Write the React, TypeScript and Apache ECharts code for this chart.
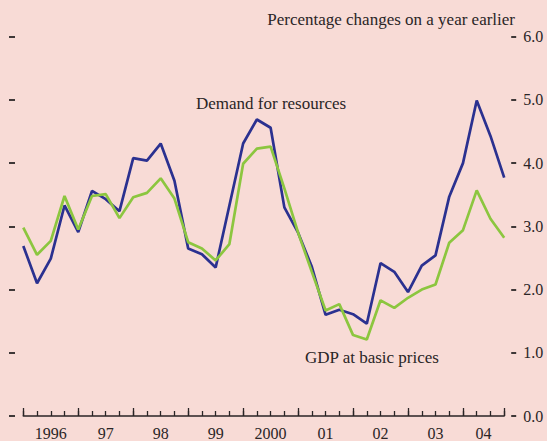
import React, { useEffect, useRef } from "react";
import * as echarts from "echarts";

const quarters: string[] = [];
const years = ["1996", "1997", "1998", "1999", "2000", "2001", "2002", "2003", "2004"];
years.forEach((y) => ["Q1", "Q2", "Q3", "Q4"].forEach((q) => quarters.push(y + " " + q)));

const yearLabels = ["1996", "97", "98", "99", "2000", "01", "02", "03", "04"];

const demandForResources = [
  2.69, 2.10, 2.49, 3.33, 2.91, 3.56, 3.43, 3.24, 4.08, 4.04, 4.31, 3.72,
  2.65, 2.56, 2.35, 3.33, 4.31, 4.69, 4.56, 3.30, 2.90, 2.36, 1.60, 1.68,
  1.61, 1.46, 2.42, 2.28, 1.96, 2.38, 2.54, 3.47, 4.00, 4.99, 4.43, 3.77,
];

const gdpBasicPrices = [
  2.98, 2.55, 2.77, 3.48, 2.95, 3.48, 3.51, 3.13, 3.46, 3.53, 3.76, 3.44,
  2.75, 2.65, 2.46, 2.72, 3.99, 4.23, 4.26, 3.60, 2.90, 2.28, 1.67, 1.77,
  1.28, 1.21, 1.83, 1.71, 1.87, 2.00, 2.08, 2.74, 2.94, 3.57, 3.12, 2.82,
];

const yTicks = [0, 1, 2, 3, 4, 5, 6];

const FONT = "'Liberation Serif', 'DejaVu Serif', serif";
const TEXT = "#2a2526";
const BG = "#f8dbd6";

export default function App() {
  const ref = useRef<HTMLDivElement>(null);
  useEffect(() => {
    if (!ref.current) return;
    const chart = echarts.init(ref.current, null, { renderer: "svg" });
    const labelPos: Record<string, string> = {};
    yearLabels.forEach((l, i) => {
      const v = i === yearLabels.length - 1 ? i * 4 + 1.5 : i * 4 + 2;
      labelPos[String(v)] = l;
    });
    chart.setOption({
      animation: false,
      backgroundColor: BG,
      grid: { left: 23.3, right: 42.8, top: 36.7, bottom: 19.3, containLabel: false },
      xAxis: [
        {
          type: "value",
          min: 0,
          max: quarters.length - 1,
          interval: 1,
          position: "bottom",
          axisLine: { show: true, onZero: false, lineStyle: { color: TEXT, width: 1.5 } },
          axisTick: { show: true, inside: true, length: 5, lineStyle: { color: TEXT, width: 1.3 } },
          axisLabel: { show: false },
          splitLine: { show: false },
        },
        {
          type: "value",
          min: 0,
          max: quarters.length - 1,
          interval: 4,
          position: "bottom",
          axisLine: { show: false, onZero: false },
          axisTick: { show: true, inside: true, length: 8, lineStyle: { color: TEXT, width: 1.3 } },
          axisLabel: { show: false },
          splitLine: { show: false },
        },
        {
          type: "value",
          min: 0,
          max: quarters.length - 1,
          interval: 0.5,
          position: "bottom",
          axisLine: { show: false, onZero: false },
          axisTick: { show: false },
          axisLabel: {
            show: true,
            margin: 9,
            color: TEXT,
            fontFamily: FONT,
            fontSize: 16,
            formatter: (v: number) => labelPos[String(v)] || "",
          },
          splitLine: { show: false },
        },
      ],
      yAxis: [
        {
          type: "value",
          position: "left",
          min: yTicks[0],
          max: yTicks[yTicks.length - 1],
          interval: 1,
          offset: 8.3,
          axisLine: { show: false, onZero: false },
          axisTick: { show: true, length: 6, lineStyle: { color: TEXT, width: 1.8 } },
          axisLabel: { show: false },
          splitLine: { show: false },
        },
        {
          type: "value",
          position: "right",
          min: yTicks[0],
          max: yTicks[yTicks.length - 1],
          interval: 1,
          offset: 7,
          axisLine: { show: false, onZero: false },
          axisTick: { show: true, length: 5, lineStyle: { color: TEXT, width: 1.8 } },
          axisLabel: {
            show: true,
            margin: 12,
            color: TEXT,
            fontFamily: FONT,
            fontSize: 16,
            formatter: (v: number) => v.toFixed(1),
          },
          splitLine: { show: false },
        },
      ],
      series: [
        {
          name: "Demand for resources",
          type: "line",
          xAxisIndex: 0,
          yAxisIndex: 1,
          data: demandForResources.map((v, i) => [i, v]),
          showSymbol: false,
          symbol: "none",
          lineStyle: { color: "#2b3190", width: 2.7 },
        },
        {
          name: "GDP at basic prices",
          type: "line",
          xAxisIndex: 0,
          yAxisIndex: 1,
          data: gdpBasicPrices.map((v, i) => [i, v]),
          showSymbol: false,
          symbol: "none",
          lineStyle: { color: "#8cc63f", width: 2.7 },
        },
      ],
      graphic: [
        {
          type: "text",
          left: 196,
          top: 95,
          style: { text: "Demand for resources", fill: TEXT, font: `17px ${FONT}` },
        },
        {
          type: "text",
          left: 305,
          top: 349,
          style: { text: "GDP at basic prices", fill: TEXT, font: `17px ${FONT}` },
        },
        {
          type: "text",
          right: 32,
          top: 11,
          style: { text: "Percentage changes on a year earlier", fill: TEXT, font: `17px ${FONT}` },
        },
      ],
    });
    return () => chart.dispose();
  }, []);
  return <div ref={ref} style={{ width: 547, height: 441, position: "fixed", left: 0, top: 0 }} />;
}
